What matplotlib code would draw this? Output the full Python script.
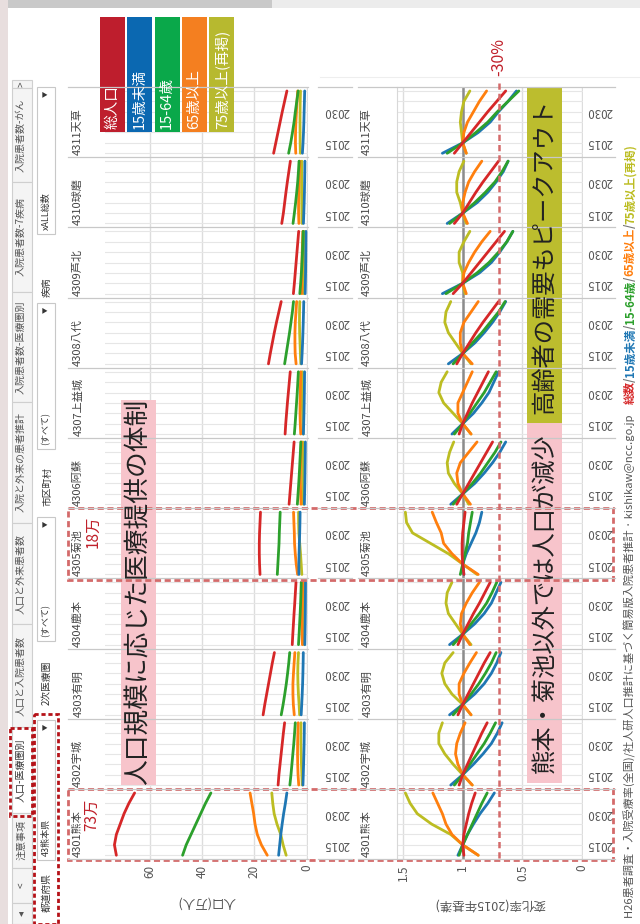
import matplotlib
matplotlib.use("Agg")
import matplotlib.pyplot as plt
import matplotlib.transforms as mtransforms
from matplotlib.patches import Rectangle

plt.rcParams['font.family'] = ['Noto Sans CJK JP', 'DejaVu Sans']

# ---- data (2015 population in 万人, change ratio vs 2015) ----
REGIONS = ["4301熊本", "4302宇城", "4303有明", "4304鹿本", "4305菊池", "4306阿蘇",
           "4307上益城", "4308八代", "4309芦北", "4310球磨", "4311天草"]
YEARS = [2010, 2015, 2020, 2025, 2030, 2035, 2040]
SERIES = ["総人口", "15歳未満", "15-64歳", "65歳以上", "75歳以上(再掲)"]

POP2015_TOTAL = [73.4, 10.6, 16.0, 5.3, 18.0, 6.4, 8.0, 13.9, 4.7, 8.9, 11.8]
POP2015_U15 = [10.3, 1.3, 1.9, 0.65, 3.0, 0.8, 1.15, 1.75, 0.5, 1.1, 1.4]
POP2015_1564 = [46.0, 6.0, 9.0, 2.9, 11.0, 3.3, 4.4, 7.8, 2.3, 4.7, 6.1]
POP2015_65 = [17.3, 3.3, 5.1, 1.75, 4.0, 2.3, 2.45, 4.4, 1.9, 3.1, 4.3]
POP2015_75 = [9.0, 1.85, 2.9, 1.0, 2.1, 1.35, 1.45, 2.4, 1.1, 1.85, 2.5]

RATIO_TOTAL = [
    [0.99, 1, 0.99, 0.97, 0.95, 0.925, 0.895],
    [1.03, 1, 0.96, 0.92, 0.88, 0.84, 0.795],
    [1.04, 1, 0.955, 0.91, 0.865, 0.82, 0.77],
    [1.04, 1, 0.955, 0.91, 0.86, 0.815, 0.77],
    [0.99, 1, 1.005, 1.005, 1.0, 0.99, 0.98],
    [1.05, 1, 0.95, 0.90, 0.85, 0.80, 0.75],
    [1.03, 1, 0.96, 0.92, 0.875, 0.83, 0.785],
    [1.05, 1, 0.945, 0.89, 0.83, 0.765, 0.70],
    [1.08, 1, 0.93, 0.86, 0.79, 0.72, 0.65],
    [1.07, 1, 0.945, 0.89, 0.83, 0.765, 0.70],
    [1.07, 1, 0.93, 0.86, 0.79, 0.715, 0.64],
]
RATIO_U15 = [
    [1.04, 1, 0.96, 0.91, 0.855, 0.79, 0.735],
    [1.10, 1, 0.91, 0.83, 0.76, 0.71, 0.67],
    [1.11, 1, 0.90, 0.82, 0.76, 0.715, 0.68],
    [1.11, 1, 0.90, 0.82, 0.76, 0.72, 0.68],
    [0.99, 1, 0.97, 0.93, 0.89, 0.86, 0.84],
    [1.10, 1, 0.90, 0.82, 0.75, 0.69, 0.64],
    [1.09, 1, 0.91, 0.84, 0.78, 0.74, 0.70],
    [1.12, 1, 0.90, 0.82, 0.75, 0.69, 0.64],
    [1.17, 1, 0.86, 0.76, 0.69, 0.63, 0.58],
    [1.13, 1, 0.88, 0.79, 0.72, 0.66, 0.62],
    [1.17, 1, 0.87, 0.77, 0.70, 0.62, 0.55],
]
RATIO_1564 = [
    [1.03, 1, 0.96, 0.92, 0.88, 0.84, 0.795],
    [1.07, 1, 0.94, 0.88, 0.82, 0.77, 0.725],
    [1.08, 1, 0.93, 0.865, 0.81, 0.76, 0.72],
    [1.08, 1, 0.93, 0.86, 0.80, 0.755, 0.715],
    [1.02, 1, 0.98, 0.96, 0.95, 0.935, 0.92],
    [1.08, 1, 0.92, 0.85, 0.79, 0.73, 0.68],
    [1.07, 1, 0.94, 0.88, 0.82, 0.77, 0.72],
    [1.08, 1, 0.92, 0.84, 0.77, 0.70, 0.645],
    [1.14, 1, 0.88, 0.78, 0.70, 0.63, 0.58],
    [1.11, 1, 0.90, 0.81, 0.73, 0.67, 0.62],
    [1.13, 1, 0.89, 0.79, 0.71, 0.62, 0.53],
]
RATIO_65 = [
    [0.87, 1, 1.09, 1.14, 1.17, 1.21, 1.25],
    [0.92, 1, 1.04, 1.06, 1.05, 1.02, 0.98],
    [0.93, 1, 1.03, 1.03, 0.99, 0.94, 0.885],
    [0.94, 1, 1.02, 1.01, 0.97, 0.92, 0.86],
    [0.87, 1, 1.09, 1.16, 1.18, 1.22, 1.255],
    [0.935, 1, 1.04, 1.05, 1.02, 0.95, 0.88],
    [0.93, 1, 1.04, 1.04, 1.0, 0.96, 0.92],
    [0.92, 1, 1.02, 1.02, 0.99, 0.93, 0.87],
    [0.97, 1, 0.99, 0.95, 0.90, 0.84, 0.77],
    [0.96, 1, 1.0, 0.98, 0.95, 0.90, 0.84],
    [0.97, 1, 0.99, 0.96, 0.91, 0.86, 0.80],
]
RATIO_75 = [
    [0.87, 1, 1.10, 1.26, 1.38, 1.44, 1.48],
    [0.92, 1, 1.08, 1.15, 1.20, 1.20, 1.17],
    [0.93, 1, 1.09, 1.15, 1.175, 1.15, 1.08],
    [0.93, 1, 1.06, 1.12, 1.14, 1.13, 1.09],
    [0.88, 1, 1.12, 1.27, 1.42, 1.47, 1.48],
    [0.95, 1, 1.07, 1.12, 1.13, 1.11, 1.075],
    [0.93, 1, 1.08, 1.16, 1.20, 1.18, 1.13],
    [0.93, 1, 1.06, 1.12, 1.15, 1.14, 1.10],
    [0.98, 1, 1.0, 1.03, 1.03, 0.99, 0.94],
    [0.97, 1, 1.02, 1.05, 1.05, 1.03, 0.99],
    [0.97, 1, 1.01, 1.02, 1.01, 0.99, 0.94],
]

LINE_COLORS = ['#d62728', '#1f77b4', '#2ca02c', '#ff7f0e', '#bcbd22']
BOX_COLORS = ['#be1e2d', '#0b68b1', '#0aa84a', '#f47f20', '#b7b92f']
SERIES_BASE = [POP2015_TOTAL, POP2015_U15, POP2015_1564, POP2015_65, POP2015_75]
SERIES_RATIO = [RATIO_TOTAL, RATIO_U15, RATIO_1564, RATIO_65, RATIO_75]
DRAW_ORDER = [4, 3, 1, 2, 0]

TABS = [(">", 80, 88), ("入院患者数-がん", 88, 182), ("入院患者数-7疾病", 182, 292),
        ("入院患者数-医療圏別", 292, 402), ("入院と外来の患者推計", 402, 523),
        ("人口と外来患者数", 523, 624), ("人口と入院患者数", 624, 727),
        ("人口-医療圏別", 727, 813), ("注意事項", 813, 868), ("<", 868, 903), ("◂", 903, 924)]

W, H = 640, 924
fig = plt.figure(figsize=(6.4, 9.24), dpi=100)


def ax_rect(x0, y0, x1, y1):
    return [x0 / W, 1 - y1 / H, (x1 - x0) / W, (y1 - y0) / H]


# background layer
bg = fig.add_axes([0, 0, 1, 1], zorder=0)
bg.set_xlim(0, W)
bg.set_ylim(H, 0)
bg.axis('off')
bg.add_patch(Rectangle((0, 0), 8, H, fc='#e8dede', ec='none'))
bg.add_patch(Rectangle((8, 0), 264, 8, fc='#c9c9c9', ec='none'))
bg.add_patch(Rectangle((272, 0), 368, 8, fc='#ececec', ec='none'))
bg.plot([320, 640], [77, 77], color='#eeeeee', lw=0.8)

# tabs
for name, ya, yb in TABS:
    sel = name == "人口-医療圏別"
    bg.add_patch(Rectangle((12, ya), 20, yb - ya, fc='white' if sel else '#f4f4f4',
                           ec='#cfcfcf', lw=0.8))
    bg.text(21, (ya + yb) / 2, name, rotation=90, ha='center', va='center',
            fontsize=7.2, color='#333333' if sel else '#555555')

# filters
FILTERS = [("都道府県", 893, "43熊本県", 720, 860), ("2次医療圏", 683, "(すべて)", 517, 641),
           ("市区町村", 487, "(すべて)", 303, 449), ("疾病", 287, "xALL総数", 87, 234)]
for label, ly, value, ya, yb in FILTERS:
    bg.text(47, ly, label, rotation=90, ha='center', va='center', fontsize=7, color='#333333')
    bg.add_patch(Rectangle((37, ya), 18, yb - ya, fc='white', ec='#c8c8c8', lw=0.8))
    bg.text(46, yb - 4, value, rotation=90, ha='center', va='bottom', fontsize=6.5, color='#333333')
    bg.text(46, ya + 7, "▼", rotation=90, ha='center', va='center', fontsize=4.5, color='#333333')

# chart panels
TOP, PH = 87.0, 70.2
axes_pop, axes_chg = [], []
for row in range(len(REGIONS)):
    ri = len(REGIONS) - 1 - row
    y0, y1 = TOP + row * PH, TOP + (row + 1) * PH
    axp = fig.add_axes(ax_rect(105, y0, 308, y1), zorder=1)
    axc = fig.add_axes(ax_rect(397, y0, 583, y1), zorder=1)
    for ax in (axp, axc):
        ax.set_ylim(2008.1, 2041.9)
        ax.set_yticks(YEARS)
        ax.tick_params(axis='y', left=False, labelleft=False)
        ax.tick_params(axis='x', length=0, labelsize=8.5, colors='#555555',
                       labelrotation=90, pad=4, labelbottom=(ri == 0))
        ax.grid(axis='y', color='#e6e6e6', lw=0.8)
        ax.grid(axis='x', color='#dddddd', lw=1.0)
        for s in ax.spines.values():
            s.set_visible(False)
        ax.set_axisbelow(True)
    axp.set_xlim(77.0, -0.5)
    axp.set_xticks([0, 20, 40, 60])
    axc.set_xlim(1.55, -0.007)
    axc.set_xticks([0, 0.5, 1, 1.5])
    axc.set_xticklabels(["0", "0.5", "1", "1.5"])
    axc.spines['left'].set_visible(True)
    axc.spines['left'].set_color('#d8d8d8')
    axc.axvline(1.0, color='#8c8c8c', lw=1.8, zorder=1.5)

    for si in DRAW_ORDER:
        base = SERIES_BASE[si][ri]
        ratio = SERIES_RATIO[si][ri]
        pop = [base * r for r in ratio]
        axp.plot(pop, YEARS, color=LINE_COLORS[si], lw=2.0, solid_capstyle='round', zorder=3)
        axc.plot(ratio, YEARS, color=LINE_COLORS[si], lw=2.0, solid_capstyle='round', zorder=3)

    axes_pop.append(axp)
    axes_chg.append(axc)

# overlay layer
ov = fig.add_axes([0, 0, 1, 1], zorder=10)
ov.set_xlim(0, W)
ov.set_ylim(H, 0)
ov.axis('off')
ov.patch.set_alpha(0)

for row in range(len(REGIONS) + 1):
    y = TOP + row * PH
    for xa, xb in [(68, 308), (318, 352), (358, 615)]:
        ov.plot([xa, xb], [y, y], color='#c8c8c8', lw=0.9)

for row in range(len(REGIONS)):
    ri = len(REGIONS) - 1 - row
    y1 = TOP + (row + 1) * PH
    ov.text(78, y1 - 2, REGIONS[ri], rotation=90, ha='center', va='bottom', fontsize=8, color='#444444')
    ov.text(367, y1 - 2, REGIONS[ri], rotation=90, ha='center', va='bottom', fontsize=8, color='#444444')
    for xpos, ax in [(337, axes_pop[row]), (600, axes_chg[row])]:
        tr = mtransforms.blended_transform_factory(ov.transData, ax.transData)
        for yr in (2015, 2030):
            ov.text(xpos, yr, str(yr), transform=tr, rotation=180, ha='center', va='center',
                    fontsize=8.3, color='#555555')

ov.text(206, 902, "人口(万人)", rotation=180, ha='center', va='center', fontsize=9, color='#555555')
ov.text(490, 903, "変化率(2015年基準)", rotation=180, ha='center', va='center', fontsize=9, color='#555555')

# -30% reference line
tr30 = mtransforms.blended_transform_factory(axes_chg[-1].transData, ov.transData)
ov.plot([0.7, 0.7], [83, 859], transform=tr30, color='#d46a6a', lw=1.8, ls=(0, (2.5, 1.6)))
ov.text(0.7, 57, "-30%", transform=tr30, rotation=90, ha='center', va='center', fontsize=11.5, color='#c0202a')

# legend boxes
lx = 100
for i, name in enumerate(SERIES):
    ov.add_patch(Rectangle((lx, 17), 25, 115, fc=BOX_COLORS[i], ec='none'))
    ov.text(lx + 12.5, 129, name, rotation=90, ha='center', va='bottom', fontsize=10.5, color='white')
    lx += 27.3

# annotation boxes
ov.add_patch(Rectangle((121, 400), 35, 385, fc='#f7c4cb', ec='none'))
ov.text(138.5, 592, "人口規模に応じた医療提供の体制", rotation=90, ha='center', va='center', fontsize=18.5, color='#222222')
ov.add_patch(Rectangle((527, 423), 35, 360, fc='#f7c4cb', ec='none'))
ov.text(544.5, 603, "熊本・菊池以外では人口が減少", rotation=90, ha='center', va='center', fontsize=17.5, color='#222222')
ov.add_patch(Rectangle((527, 88), 35, 335, fc='#bcbd2e', ec='none'))
ov.text(544.5, 256, "高齢者の需要もピークアウト", rotation=90, ha='center', va='center', fontsize=17.5, color='#222222')

# highlight boxes
for ya, yb in [(789, 860), (508, 580)]:
    ov.add_patch(Rectangle((68, ya), 545, yb - ya, fill=False, ec='#d46a6a', lw=2, ls=(0, (2.2, 1.3))))
ov.text(92, 815, "73万", rotation=90, ha='center', va='center', fontsize=11, color='#c0202a')
ov.text(93, 532, "18万", rotation=90, ha='center', va='center', fontsize=11, color='#c0202a')
ov.add_patch(Rectangle((10, 728), 22, 88, fill=False, ec='#b51218', lw=2, ls=(0, (1.5, 1))))
ov.add_patch(Rectangle((34, 714), 24, 210, fill=False, ec='#b51218', lw=2, ls=(0, (1.5, 1))))

# footer
renderer = fig.canvas.get_renderer()
fy = 918
t = ov.text(630, fy, "H26患者調査・入院受療率(全国)/社人研人口推計に基づく簡易版入院患者推計 · kishikaw@ncc.go.jp",
            rotation=90, ha='center', va='bottom', fontsize=8, color='#555555')
fy -= t.get_window_extent(renderer=renderer).height + 10
FOOT = [("総数", LINE_COLORS[0]), ("/", '#777777'), ("15歳未満", LINE_COLORS[1]), ("/", '#777777'),
        ("15-64歳", LINE_COLORS[2]), ("/", '#777777'), ("65歳以上", LINE_COLORS[3]), ("/", '#777777'),
        ("75歳以上(再掲)", LINE_COLORS[4])]
for txt, col in FOOT:
    t = ov.text(630, fy, txt, rotation=90, ha='center', va='bottom', fontsize=8.3,
                color=col, fontweight='bold')
    fy -= t.get_window_extent(renderer=renderer).height

fig.savefig("out.png", dpi=100)
